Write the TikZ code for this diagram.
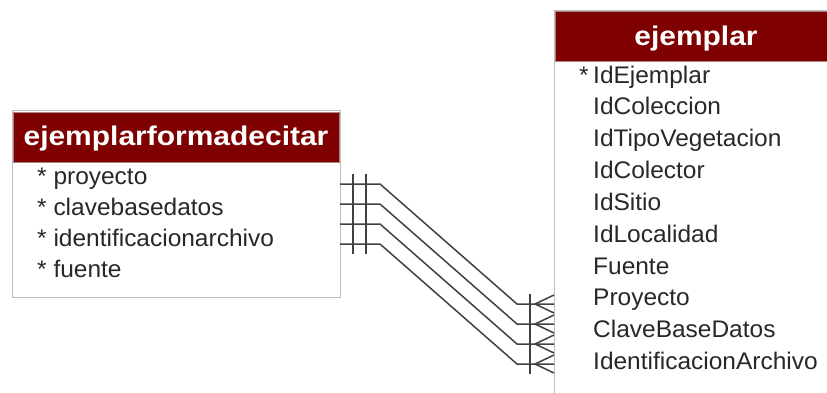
\documentclass[tikz,border=0pt]{standalone}
\usepackage{fontspec}
\usepackage{graphicx}
\setmainfont{Liberation Sans}
\usetikzlibrary{calc}
\definecolor{hdrred}{RGB}{126,0,0}
\definecolor{txtgray}{RGB}{40,40,40}
\definecolor{lingray}{RGB}{65,65,65}
\definecolor{boxgray}{RGB}{190,190,190}
\begin{document}
\begin{tikzpicture}[x=1pt,y=-1pt,
  boxline/.style={draw=boxgray, line width=1.2pt, fill=white, inner sep=0pt, anchor=north west},
  hdr/.style={fill=hdrred, draw=boxgray!70!hdrred, line width=0.8pt, inner sep=0pt, anchor=north west},
  htext/.style={anchor=base, inner sep=0pt, text=white, font=\fontsize{27}{29}\selectfont\bfseries},
  rowtext/.style={anchor=base west, inner sep=0pt, text=txtgray, font=\fontsize{24}{26}\selectfont},
  conn/.style={draw=lingray, line width=1.5pt},
]
\clip (0,0) rectangle (827,392);
\fill[white] (0,0) rectangle (827,392);
% left table
\node[boxline, minimum width=328pt, minimum height=187pt] (lbox) at (12,110) {};
\node[hdr, minimum width=326pt, minimum height=50pt] (lhead) at (13,112) {};
\node[htext] (ltitle) at (176,145) {\scalebox{1.11}[1]{ejemplarformadecitar}};
\foreach \t [count=\i] in {proyecto,clavebasedatos,identificacionarchivo,fuente}
  \node[rowtext] (l\i) at (37,{184+31.2*(\i-1)}) {\scalebox{1.02}[1]{* \t}};
% right table
\node[boxline, minimum width=300pt, minimum height=400pt] (rbox) at (554,10) {};
\node[hdr, minimum width=298pt, minimum height=50pt] (rhead) at (555,11) {};
\node[htext] (rtitle) at (696,45) {\scalebox{1.11}[1]{ejemplar}};
\node[rowtext] (rstar) at (579,83) {\scalebox{1.02}[1]{*}};
\foreach \t [count=\i] in {IdEjemplar,IdColeccion,IdTipoVegetacion,IdColector,IdSitio,IdLocalidad,Fuente,Proyecto,ClaveBaseDatos,IdentificacionArchivo}
  \node[rowtext] (r\i) at (593,{83+31.85*(\i-1)}) {\scalebox{1.02}[1]{\t}};
% connectors
\foreach \i in {1,...,4}{
  \coordinate (c\i) at (340,{184+20*(\i-1)});
  \coordinate (d\i) at (554,{304+20*(\i-1)});
  \draw[conn] (c\i) -- ($(c\i)+(40,0)$) -- ($(d\i)+(-37,0)$) -- (d\i);
  \draw[conn] ($(c\i)+(13,-10)$) -- ($(c\i)+(13,10)$);
  \draw[conn] ($(c\i)+(26,-10)$) -- ($(c\i)+(26,10)$);
  \draw[conn] ($(d\i)+(-24,-10)$) -- ($(d\i)+(-24,10)$);
  \draw[conn] ($(d\i)+(0,-9)$) -- ($(d\i)+(-19,0)$) -- ($(d\i)+(0,9)$);
}
\end{tikzpicture}
\end{document}
